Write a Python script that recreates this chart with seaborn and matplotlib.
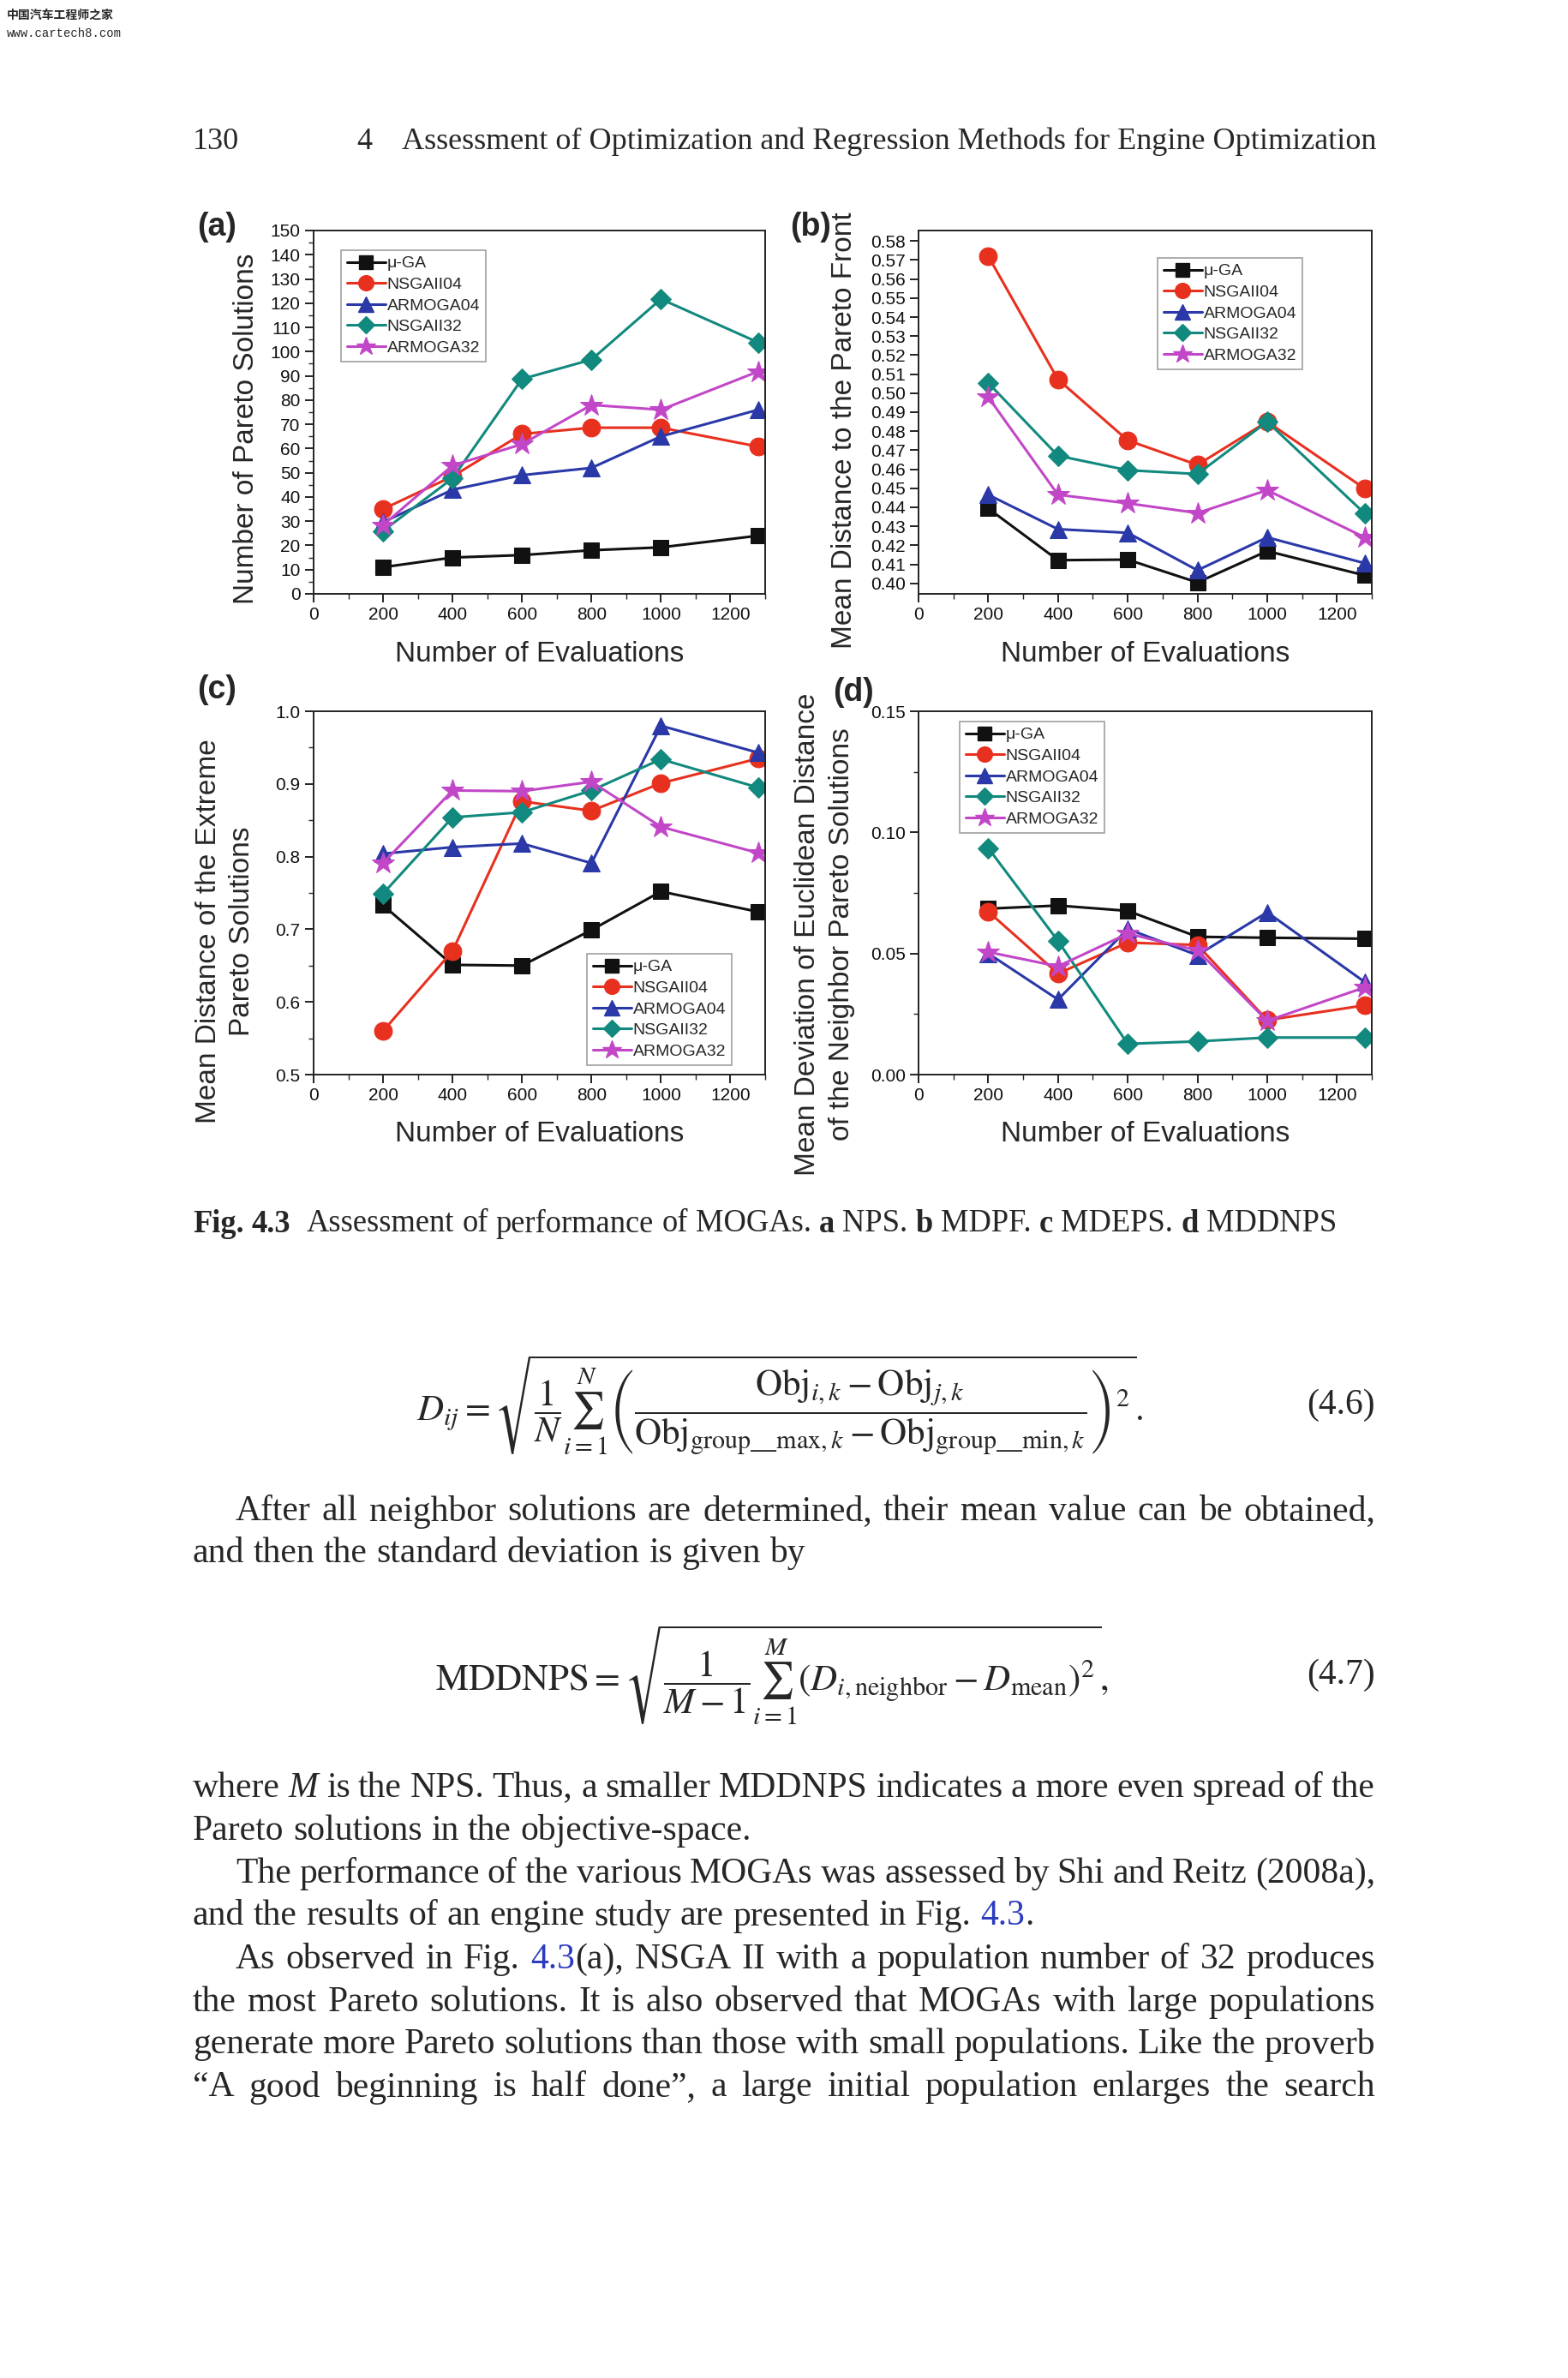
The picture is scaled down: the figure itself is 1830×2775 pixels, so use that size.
import re

import matplotlib
matplotlib.use("Agg")
import matplotlib.pyplot as plt
import pandas as pd
import seaborn as sns
from matplotlib.lines import Line2D
from matplotlib.ticker import MultipleLocator, FormatStrFormatter

W, H, DPI = 1831, 2775, 100

# ---- data ---------------------------------------------------------------
evals = [200, 400, 600, 800, 1000, 1280]
algos = ["μ-GA", "NSGAII04", "ARMOGA04", "NSGAII32", "ARMOGA32"]

nps = {
    "μ-GA": [11, 15, 16, 18, 19.2, 24],
    "NSGAII04": [35, 48.5, 66, 68.6, 68.6, 60.8],
    "ARMOGA04": [29.6, 43, 49, 52, 65, 76],
    "NSGAII32": [26, 47.7, 88.7, 96.7, 121.7, 103.8],
    "ARMOGA32": [28.4, 53, 61.8, 78, 76, 91.8],
}
mdpf = {
    "μ-GA": [0.4394, 0.4122, 0.4125, 0.4005, 0.4170, 0.4042],
    "NSGAII04": [0.5720, 0.5072, 0.4752, 0.4623, 0.4850, 0.4498],
    "ARMOGA04": [0.4466, 0.4285, 0.4266, 0.4069, 0.4242, 0.4106],
    "NSGAII32": [0.5054, 0.4671, 0.4595, 0.4575, 0.4850, 0.4367],
    "ARMOGA32": [0.4979, 0.4466, 0.4421, 0.4370, 0.4490, 0.4242],
}
mdeps = {
    "μ-GA": [0.733, 0.651, 0.650, 0.699, 0.752, 0.724],
    "NSGAII04": [0.560, 0.670, 0.876, 0.863, 0.901, 0.935],
    "ARMOGA04": [0.804, 0.813, 0.818, 0.791, 0.980, 0.943],
    "NSGAII32": [0.749, 0.854, 0.861, 0.891, 0.934, 0.895],
    "ARMOGA32": [0.791, 0.891, 0.890, 0.903, 0.841, 0.805],
}
mddnps = {
    "μ-GA": [0.0685, 0.0698, 0.0676, 0.0569, 0.0565, 0.0561],
    "NSGAII04": [0.0673, 0.0417, 0.0545, 0.0535, 0.0225, 0.0286],
    "ARMOGA04": [0.0500, 0.0310, 0.0601, 0.0493, 0.0670, 0.0382],
    "NSGAII32": [0.0935, 0.0552, 0.0127, 0.0137, 0.0153, 0.0153],
    "ARMOGA32": [0.0506, 0.0447, 0.0582, 0.0513, 0.0222, 0.0360],
}

colors = {"μ-GA": "#111111", "NSGAII04": "#e8301f", "ARMOGA04": "#2a38a8",
          "NSGAII32": "#12897e", "ARMOGA32": "#c247c8"}
markers = {"μ-GA": "s", "NSGAII04": "o", "ARMOGA04": "^", "NSGAII32": "D", "ARMOGA32": "*"}
msizes = {"s": 13.5, "o": 15, "^": 15, "D": 12.5, "*": 19}

sns.set_theme(style="ticks")
plt.rcParams["font.family"] = ["Liberation Sans", "DejaVu Sans"]
plt.rcParams["mathtext.fontset"] = "stix"

fig = plt.figure(figsize=(W / DPI, H / DPI), dpi=DPI, facecolor="white")
renderer = fig.canvas.get_renderer()


def fx(x):
    return x / W


def fy(y):
    return 1 - y / H


def panel(box, values, ylim, major, minor, fmt, leg_xy, tag, tag_xy, ylabels, ylab_y):
    l, t, r, b = box
    ax = fig.add_axes([fx(l), fy(b), (r - l) / W, (b - t) / H])
    df = pd.DataFrame(
        [(e, a, v) for a in algos for e, v in zip(evals, values[a])],
        columns=["evals", "algo", "value"],
    )
    sns.lineplot(data=df, x="evals", y="value", hue="algo", style="algo",
                 hue_order=algos, style_order=algos, palette=colors,
                 markers=markers, dashes=False, linewidth=2.2, legend=False, ax=ax)
    for line in ax.get_lines():
        line.set_markeredgecolor(line.get_color())
        line.set_markersize(msizes.get(line.get_marker(), 12))
    ax.set_xlim(0, 1300)
    ax.set_ylim(*ylim)
    ax.xaxis.set_major_locator(MultipleLocator(200))
    ax.xaxis.set_minor_locator(MultipleLocator(100))
    ax.yaxis.set_major_locator(MultipleLocator(major))
    if minor:
        ax.yaxis.set_minor_locator(MultipleLocator(minor))
    ax.yaxis.set_major_formatter(FormatStrFormatter(fmt))
    ax.tick_params(which="major", direction="out", length=7, width=1.3, labelsize=15,
                   colors="#111111", pad=4)
    ax.tick_params(which="minor", direction="out", length=4, width=1.0)
    for sp in ax.spines.values():
        sp.set_visible(True)
        sp.set_linewidth(1.4)
        sp.set_color("#222222")
    ax.set_xlabel("")
    ax.set_ylabel("")
    fig.text(fx((l + r) / 2), fy(b + 70), "Number of Evaluations", fontsize=24,
             ha="center", va="center")
    # y label, one text per line so each can be placed on its own column
    for text, x in ylabels:
        fig.text(fx(x), fy(ylab_y), text, fontsize=24, rotation=90,
                 ha="center", va="center")
    fig.text(fx(tag_xy[0]), fy(tag_xy[1]), tag, fontsize=27, weight="bold",
             ha="center", va="center")
    handles = [Line2D([], [], color=colors[a], marker=markers[a], lw=2.2,
                      markersize=msizes[markers[a]] * 0.85, markeredgecolor=colors[a])
               for a in algos]
    leg = ax.legend(handles, algos, loc="upper left",
                    bbox_to_anchor=(fx(leg_xy[0]), fy(leg_xy[1])),
                    bbox_transform=fig.transFigure, fontsize=14, frameon=True,
                    fancybox=False, handlelength=2.3, handletextpad=0.1,
                    labelspacing=0.36, borderpad=0.35, borderaxespad=0)
    leg.get_frame().set_edgecolor("#888888")
    leg.get_frame().set_linewidth(1.2)
    return ax


panel((366, 269, 893, 693), nps, (0, 150), 10, 5, "%d", (398, 292),
      "(a)", (253, 265), [("Number of Pareto Solutions", 288)], 500)
panel((1072, 269, 1601, 693), mdpf, (0.3945, 0.5855), 0.01, None, "%.2f", (1351, 301),
      "(b)", (946, 265), [("Mean Distance to the Pareto Front", 986)], 502)
panel((366, 830, 893, 1254), mdeps, (0.5, 1.0), 0.1, 0.05, "%.1f", (685, 1113),
      "(c)", (253, 805), [("Mean Distance of the Extreme", 244), ("Pareto Solutions", 283)], 1087)
panel((1072, 830, 1601, 1254), mddnps, (0, 0.15), 0.05, 0.025, "%.2f", (1120, 842),
      "(d)", (996, 808), [("Mean Deviation of Euclidean Distance", 943),
                          ("of the Neighbor Pareto Solutions", 983)], 1090)

# ---- page text -----------------------------------------------------------
SERIF = "Liberation Serif"
STYLE = {
    "n": dict(family=SERIF),
    "i": dict(family=SERIF, style="italic"),
    "b": dict(family=SERIF, weight="bold"),
    "l": dict(family=SERIF, color="#2b3cc0"),
}


def runs_of(word):
    out = []
    for m in re.finditer(r"\*\*(.+?)\*\*|\*(.+?)\*|\[(.+?)\]|([^*\[\]]+)", word):
        b, i, lk, n = m.groups()
        if b:
            out.append((b, "b"))
        elif i:
            out.append((i, "i"))
        elif lk:
            out.append((lk, "l"))
        else:
            out.append((n, "n"))
    return out


def put(x, y, txt, style, size, draw=True):
    t = fig.text(fx(x), fy(y), txt, fontsize=size, ha="left", va="center", **STYLE[style])
    w = t.get_window_extent(renderer).width
    if not draw:
        t.remove()
    return w


def draw_line(text, y, size=30, x0=225, x1=1605, indent=0, justify=False):
    words = [runs_of(w) for w in text.split(" ")]
    widths = [sum(put(0, 0, t, s, size, draw=False) for t, s in w) for w in words]
    space = 0.25 * size * DPI / 72
    if justify and len(words) > 1:
        space = (x1 - x0 - indent - sum(widths)) / (len(words) - 1)
    x = x0 + indent
    for w, wd in zip(words, widths):
        xx = x
        for t, s in w:
            xx += put(xx, y, t, s, size)
        x += wd + space


# watermark
fig.text(fx(8), fy(18), "中国汽车工程师之家", fontsize=10, weight="bold",
         family=["Noto Sans CJK SC", "DejaVu Sans"], ha="left", va="center")
fig.text(fx(8), fy(39), "www.cartech8.com", fontsize=10, family="Liberation Mono",
         ha="left", va="center")

# running head
put(225, 165, "130", "n", 26)
put(416, 165, "4", "n", 26)
put(469, 165, "Assessment of Optimization and Regression Methods for Engine Optimization", "n", 26)

# caption
draw_line("**Fig.** **4.3**  Assessment of performance of MOGAs. **a** NPS. **b** MDPF. "
          "**c** MDEPS. **d** MDDNPS", 1428, size=26.3)

# equation 4.6
fig.text(fx(486), fy(1640),
         r"$D_{ij} = \sqrt{\dfrac{1}{N}\sum_{i=1}^{N}\left(\dfrac{\mathrm{Obj}_{i,k}-\mathrm{Obj}_{j,k}}"
         r"{\mathrm{Obj}_{\mathrm{group\_\_max},k}-\mathrm{Obj}_{\mathrm{group\_\_min},k}}\right)^{2}}.$",
         fontsize=31, ha="left", va="center")
fig.text(fx(1605), fy(1640), "(4.6)", fontsize=30, family=SERIF, ha="right", va="center")

draw_line("After all neighbor solutions are determined, their mean value can be obtained,",
          1764, indent=50, justify=True)
draw_line("and then the standard deviation is given by", 1813)

# equation 4.7
fig.text(fx(508), fy(1955),
         r"$\mathrm{MDDNPS} = \sqrt{\dfrac{1}{M-1}\sum_{i=1}^{M}\left(D_{i,\mathrm{neighbor}}"
         r" - D_{\mathrm{mean}}\right)^{2}},$",
         fontsize=31, ha="left", va="center")
fig.text(fx(1605), fy(1955), "(4.7)", fontsize=30, family=SERIF, ha="right", va="center")

body = [
    ("where *M* is the NPS. Thus, a smaller MDDNPS indicates a more even spread of the", 2087, 0, True),
    ("Pareto solutions in the objective-space.", 2137, 0, False),
    ("The performance of the various MOGAs was assessed by Shi and Reitz (2008a),", 2187, 50, True),
    ("and the results of an engine study are presented in Fig. [4.3].", 2236, 0, False),
    ("As observed in Fig. [4.3](a), NSGA II with a population number of 32 produces", 2287, 50, True),
    ("the most Pareto solutions. It is also observed that MOGAs with large populations", 2337, 0, True),
    ("generate more Pareto solutions than those with small populations. Like the proverb", 2386, 0, True),
    ("\u201cA good beginning is half done\u201d, a large initial population enlarges the search", 2436, 0, True),
]
for text, y, ind, just in body:
    draw_line(text, y, indent=ind, justify=just)

fig.savefig("out.png", dpi=DPI, facecolor="white")
plt.close(fig)
